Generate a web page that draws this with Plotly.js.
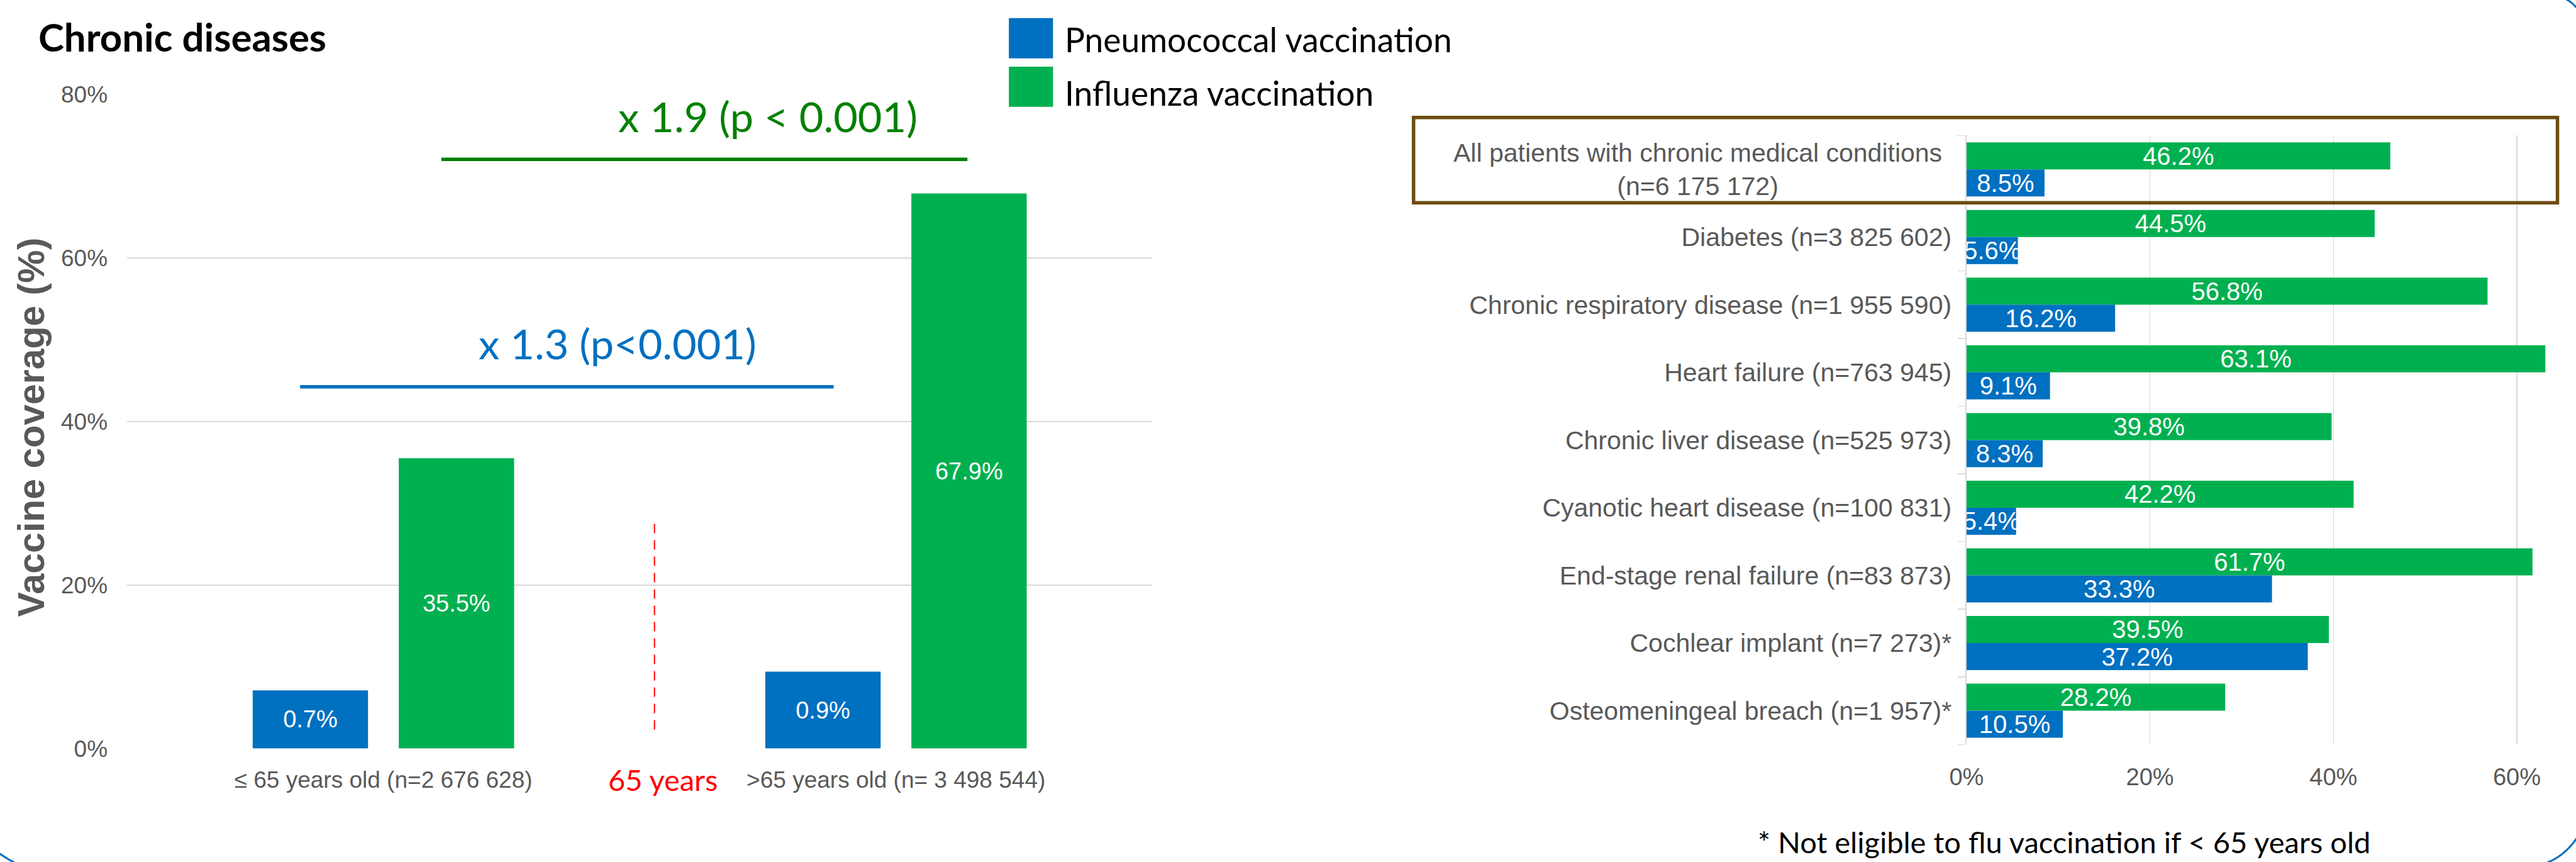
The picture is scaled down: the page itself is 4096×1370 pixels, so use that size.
<!DOCTYPE html>
<html><head><meta charset="utf-8">
<script src="https://cdn.plot.ly/plotly-3.0.1.min.js"></script>
<style>html,body{margin:0;padding:0;background:#fff;overflow:hidden}#chart{width:4096px;height:1370px}</style>
</head><body><div id="chart"></div>
<script>
// ---------- data ----------
const ageGroups = ['≤ 65 years old (n=2 676 628)', '>65 years old (n= 3 498 544)'];
const pneumoAgeHeights = [7.1, 9.4];          // drawn bar heights
const pneumoAgeLabels = ['0.7%', '0.9%'];      // printed labels
const fluAge = [35.5, 67.9];
const conditions = [
  'All patients with chronic medical conditions (n=6 175 172)',
  'Diabetes (n=3 825 602)',
  'Chronic respiratory disease (n=1 955 590)',
  'Heart failure (n=763 945)',
  'Chronic liver disease (n=525 973)',
  'Cyanotic heart disease (n=100 831)',
  'End-stage renal failure (n=83 873)',
  'Cochlear implant (n=7 273)*',
  'Osteomeningeal breach (n=1 957)*'
];
const fluCond = [46.2, 44.5, 56.8, 63.1, 39.8, 42.2, 61.7, 39.5, 28.2];
const pneumoCond = [8.5, 5.6, 16.2, 9.1, 8.3, 5.4, 33.3, 37.2, 10.5];
const seriesNames = ['Pneumococcal vaccination', 'Influenza vaccination'];

// ---------- geometry helpers (reference px -> paper) ----------
const RW = 5837, RH = 1952, S = 4096 / RW;
const px = X => X / RW;
const py = Y => 1 - Y / RH;
const fs = v => v * S;

const BLUE = '#0070C0', GREEN = '#00B050', GRAY = '#595959', GRID = '#D9D9D9';
const SANS = 'Liberation Sans, Arial, sans-serif';
const CAL = 'Lato, Open Sans, sans-serif';
const pct = v => v.toFixed(1) + '%';

const barText = {color: '#ffffff', size: 38, family: SANS};

const traces = [
  {type: 'bar', name: seriesNames[0], x: ageGroups, y: pneumoAgeHeights, text: pneumoAgeLabels,
   xaxis: 'x', yaxis: 'y', marker: {color: BLUE}, width: 0.225, offset: -0.255,
   textposition: 'inside', insidetextanchor: 'middle', textfont: barText, constraintext: 'none',
   showlegend: false, hoverinfo: 'skip'},
  {type: 'bar', name: seriesNames[1], x: ageGroups, y: fluAge, text: fluAge.map(pct),
   xaxis: 'x', yaxis: 'y', marker: {color: GREEN}, width: 0.225, offset: 0.030,
   textposition: 'inside', insidetextanchor: 'middle', textfont: barText, constraintext: 'none',
   showlegend: false, hoverinfo: 'skip'},
  {type: 'bar', orientation: 'h', name: seriesNames[1], y: conditions, x: fluCond, text: fluCond.map(pct),
   xaxis: 'x2', yaxis: 'y2', marker: {color: GREEN}, width: 0.4, offset: -0.4,
   textposition: 'inside', insidetextanchor: 'middle', textfont: {color: '#ffffff', size: 40, family: SANS},
   constraintext: 'none', showlegend: false, hoverinfo: 'skip'},
  {type: 'bar', orientation: 'h', name: seriesNames[0], y: conditions, x: pneumoCond, text: pneumoCond.map(pct),
   xaxis: 'x2', yaxis: 'y2', marker: {color: BLUE}, width: 0.4, offset: 0,
   textposition: 'inside', insidetextanchor: 'middle', textfont: {color: '#ffffff', size: 40, family: SANS},
   constraintext: 'none', showlegend: false, hoverinfo: 'skip'}
];

const firstCond = conditions[0].replace(' (n=', '<br>(n=');
const condTickText = conditions.map((c, i) => i === 0 ? '' : c);

const layout = {
  width: 4096, height: 1370,
  margin: {l: 0, r: 0, t: 0, b: 0},
  paper_bgcolor: '#ffffff', plot_bgcolor: 'rgba(0,0,0,0)',
  font: {family: SANS, color: GRAY},
  barmode: 'group',
  showlegend: false,
  xaxis: {domain: [px(288), px(2611)], anchor: 'y', type: 'category', showgrid: false, showline: false,
          zeroline: false, ticks: '', tickfont: {size: 37, color: GRAY, family: SANS}, ticklabelstandoff: 24,
          fixedrange: true},
  yaxis: {domain: [py(1695), py(214)], anchor: 'x', range: [0, 80], dtick: 20, ticksuffix: '%',
          showgrid: true, gridcolor: GRID, gridwidth: 1.6, zeroline: false, showline: false, ticks: '',
          tickfont: {size: 37, color: GRAY, family: SANS}, ticklabelstandoff: 30, fixedrange: true},
  xaxis2: {domain: [px(4456), px(5807)], anchor: 'y2', range: [0, 65], dtick: 20, ticksuffix: '%',
           showgrid: true, gridcolor: GRID, gridwidth: 1.6, zeroline: false, showline: false, ticks: '',
           tickfont: {size: 38, color: GRAY, family: SANS}, ticklabelstandoff: 26, fixedrange: true},
  yaxis2: {domain: [py(1686), py(307)], anchor: 'x2', type: 'category', autorange: 'reversed',
           tickmode: 'array', tickvals: conditions, ticktext: condTickText,
           showgrid: false, zeroline: false, showline: true, linecolor: GRID, linewidth: 1.6,
           ticks: 'outside', tickson: 'boundaries', ticklen: 12, tickcolor: GRID, tickwidth: 1.6,
           tickfont: {size: 41, color: GRAY, family: SANS}, ticklabelstandoff: 14, fixedrange: true},
  shapes: [
    // significance lines
    {type: 'line', xref: 'paper', yref: 'paper', x0: px(1000), x1: px(2192), y0: py(361), y1: py(361),
     line: {color: '#008000', width: 5.5}},
    {type: 'line', xref: 'paper', yref: 'paper', x0: px(680), x1: px(1889), y0: py(876), y1: py(876),
     line: {color: BLUE, width: 5.5}},
    // 65 years divider
    {type: 'line', xref: 'paper', yref: 'paper', x0: px(1483), x1: px(1483), y0: py(1186), y1: py(1656),
     line: {color: '#FF0000', width: 2, dash: '15px,11px'}},
    // legend swatches
    {type: 'rect', xref: 'paper', yref: 'paper', x0: px(2286), x1: px(2386), y0: py(132), y1: py(41),
     fillcolor: BLUE, line: {width: 0}},
    {type: 'rect', xref: 'paper', yref: 'paper', x0: px(2286), x1: px(2386), y0: py(242), y1: py(151),
     fillcolor: GREEN, line: {width: 0}},
    // highlight box around first condition
    {type: 'rect', xref: 'paper', yref: 'paper', x0: px(3203), x1: px(5795), y0: py(459), y1: py(266),
     line: {color: '#6E4C12', width: 5.5}, fillcolor: 'rgba(0,0,0,0)'},
    // outer rounded frame fragments
    {type: 'path', xref: 'paper', yref: 'paper',
     path: `M ${px(-5)} ${py(1930)} Q ${px(14)} ${py(1944)} ${px(38)} ${py(1956)}`,
     line: {color: BLUE, width: 3}},
    {type: 'path', xref: 'paper', yref: 'paper',
     path: `M ${px(5812)} ${py(-3)} Q ${px(5828)} ${py(4)} ${px(5842)} ${py(22)}`,
     line: {color: BLUE, width: 3}},
    {type: 'path', xref: 'paper', yref: 'paper',
     path: `M ${px(5765)} ${py(1956)} Q ${px(5812)} ${py(1940)} ${px(5842)} ${py(1893)}`,
     line: {color: BLUE, width: 3}}
  ],
  annotations: [
    {xref: 'paper', yref: 'paper', x: px(84), y: py(83), xanchor: 'left', yanchor: 'middle', showarrow: false,
     text: '<b>Chronic diseases</b>', font: {family: CAL, size: fs(88), color: '#000000'}},
    {xref: 'paper', yref: 'paper', x: px(70), y: py(968), xanchor: 'center', yanchor: 'middle', showarrow: false,
     textangle: -90, text: '<b>Vaccine coverage (%)</b>', font: {family: SANS, size: fs(84), color: GRAY}},
    {xref: 'paper', yref: 'paper', x: px(1740), y: py(262), xanchor: 'center', yanchor: 'middle', showarrow: false,
     text: 'x 1.9 (p &lt; 0.001)', font: {family: CAL, size: fs(95), color: '#008000'}},
    {xref: 'paper', yref: 'paper', x: px(1399), y: py(777), xanchor: 'center', yanchor: 'middle', showarrow: false,
     text: 'x 1.3 (p&lt;0.001)', font: {family: CAL, size: fs(95), color: BLUE}},
    {xref: 'paper', yref: 'paper', x: px(1502), y: py(1765), xanchor: 'center', yanchor: 'middle', showarrow: false,
     text: '65 years', font: {family: CAL, size: fs(67), color: '#FF0000'}},
    {xref: 'paper', yref: 'paper', x: px(2410), y: py(88), xanchor: 'left', yanchor: 'middle', showarrow: false,
     text: seriesNames[0], font: {family: CAL, size: fs(76), color: '#000000'}},
    {xref: 'paper', yref: 'paper', x: px(2410), y: py(209), xanchor: 'left', yanchor: 'middle', showarrow: false,
     text: seriesNames[1], font: {family: CAL, size: fs(76), color: '#000000'}},
    {xref: 'paper', yref: 'paper', x: px(4403), y: py(384), xanchor: 'right', yanchor: 'middle', showarrow: false,
     align: 'center', text: firstCond, font: {family: SANS, size: 41, color: GRAY}},
    {xref: 'paper', yref: 'paper', x: px(4677), y: py(1906), xanchor: 'center', yanchor: 'middle', showarrow: false,
     text: '* Not eligible to flu vaccination if &lt; 65 years old', font: {family: CAL, size: fs(67), color: '#000000'}}
  ]
};

Plotly.newPlot('chart', traces, layout, {staticPlot: true, displayModeBar: false});
</script>
</body></html>
